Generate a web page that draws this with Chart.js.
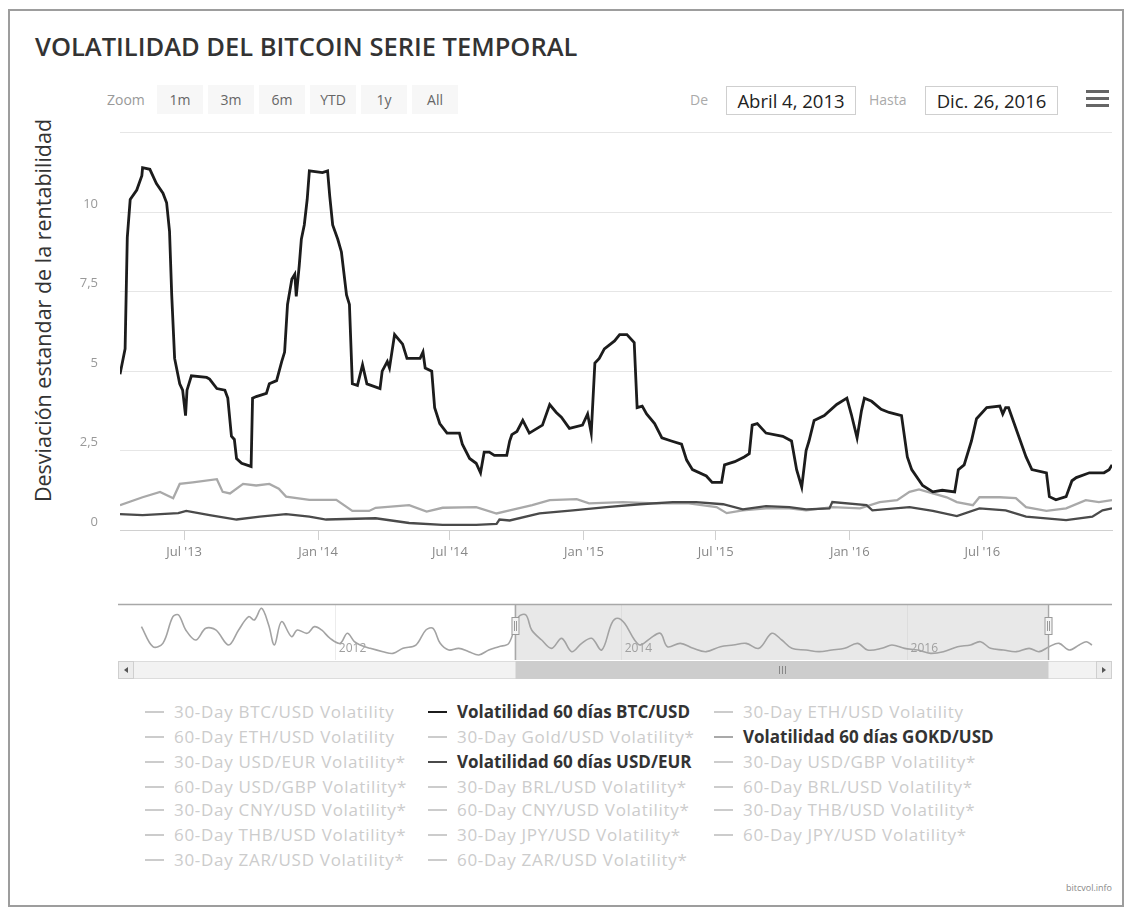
<!DOCTYPE html>
<html><head><meta charset="utf-8">
<script src="https://cdn.jsdelivr.net/npm/chart.js@4.4.1/dist/chart.umd.min.js"></script>
<style>
html,body{margin:0;padding:0;background:#fff;}
body{width:1134px;height:913px;position:relative;overflow:hidden;font-family:"Open Sans",sans-serif;}
#frame{position:absolute;left:8px;top:9px;width:1116px;height:898px;border:2px solid #9d9d9d;box-sizing:border-box;}
#title{position:absolute;left:35px;top:29px;font-size:25.5px;font-weight:600;color:#333;white-space:nowrap;}
#zoomLabel{position:absolute;left:107px;top:86px;height:28px;line-height:28px;font-size:14px;color:#999;}
.zbtn{position:absolute;top:85px;width:46px;height:29px;line-height:29px;text-align:center;background:#f7f7f7;font-size:14px;color:#666;}
.dlabel{position:absolute;top:86px;height:28px;line-height:28px;font-size:14px;color:#aaa;}
.dbox{position:absolute;top:86px;height:29px;line-height:28px;border:1px solid #cfcfcf;box-sizing:border-box;text-align:center;font-size:18.5px;color:#222;}
.bar{position:absolute;left:1086px;width:23px;height:3px;background:#666;}
#ytitle{position:absolute;left:-208px;top:296px;width:500px;text-align:center;font-size:21.5px;color:#333;transform:rotate(-90deg);white-space:nowrap;}
#mainWrap{position:absolute;left:0;top:103px;width:1134px;height:477px;}
#navWrap{position:absolute;left:0;top:598px;width:1134px;height:90px;}
.litem{position:absolute;height:22px;line-height:22px;font-size:17px;white-space:nowrap;}
.lsym{display:inline-block;width:19px;height:2px;vertical-align:middle;margin-right:10px;position:relative;top:-1px;}
#credit{position:absolute;right:22px;top:881px;font-size:9px;color:#888;}
</style></head>
<body>
<div id="frame"></div>
<div id="title">VOLATILIDAD DEL BITCOIN SERIE TEMPORAL</div>
<div id="zoomLabel">Zoom</div>
<div id="zoomBtns"></div>
<div class="dlabel" style="left:690px">De</div>
<div class="dbox" style="left:726px;width:130px">Abril 4, 2013</div>
<div class="dlabel" style="left:869px">Hasta</div>
<div class="dbox" style="left:925px;width:133px">Dic. 26, 2016</div>
<div class="bar" style="top:90px"></div><div class="bar" style="top:97px"></div><div class="bar" style="top:104px"></div>
<div id="ytitle">Desviación estandar de la rentabilidad</div>
<div id="mainWrap"><canvas id="main"></canvas></div>
<div id="navWrap"><canvas id="nav"></canvas></div>
<div id="legend"></div>
<div id="credit">bitcvol.info</div>
<script>
// ---------- DATA ----------
const zoomButtons = ['1m','3m','6m','YTD','1y','All'];

const btcDates = ['2013-04-04','2013-04-11','2013-04-14','2013-04-18','2013-04-27','2013-05-04','2013-05-05','2013-05-15','2013-05-24','2013-06-02','2013-06-07','2013-06-11','2013-06-14','2013-06-18','2013-06-25','2013-06-29','2013-07-03','2013-07-05','2013-07-11','2013-08-01','2013-08-05','2013-08-15','2013-08-26','2013-08-30','2013-09-04','2013-09-08','2013-09-11','2013-09-18','2013-10-01','2013-10-03','2013-10-08','2013-10-22','2013-10-26','2013-11-05','2013-11-12','2013-11-16','2013-11-20','2013-11-26','2013-11-30','2013-12-02','2013-12-06','2013-12-09','2013-12-13','2013-12-17','2013-12-20','2014-01-07','2014-01-14','2014-01-17','2014-01-21','2014-01-28','2014-02-02','2014-02-09','2014-02-13','2014-02-17','2014-02-24','2014-03-03','2014-03-09','2014-03-27','2014-03-30','2014-04-06','2014-04-09','2014-04-16','2014-04-27','2014-05-03','2014-05-21','2014-05-25','2014-05-28','2014-06-06','2014-06-10','2014-06-17','2014-06-27','2014-07-14','2014-07-18','2014-07-28','2014-08-06','2014-08-12','2014-08-17','2014-08-24','2014-08-31','2014-09-17','2014-09-21','2014-09-24','2014-10-01','2014-10-09','2014-10-18','2014-11-05','2014-11-15','2014-11-24','2014-12-01','2014-12-12','2014-12-30','2015-01-06','2015-01-11','2015-01-16','2015-01-22','2015-01-29','2015-02-12','2015-02-19','2015-03-01','2015-03-11','2015-03-15','2015-03-22','2015-03-28','2015-04-08','2015-04-18','2015-05-01','2015-05-15','2015-05-22','2015-05-30','2015-06-18','2015-06-26','2015-07-09','2015-07-13','2015-07-27','2015-08-09','2015-08-16','2015-08-20','2015-08-27','2015-09-08','2015-10-01','2015-10-13','2015-10-20','2015-10-27','2015-11-02','2015-11-06','2015-11-13','2015-11-27','2015-12-14','2015-12-28','2016-01-03','2016-01-11','2016-01-17','2016-01-21','2016-01-31','2016-02-13','2016-02-24','2016-03-12','2016-03-20','2016-03-26','2016-04-10','2016-04-24','2016-05-07','2016-05-24','2016-05-29','2016-06-06','2016-06-16','2016-06-23','2016-07-07','2016-07-25','2016-07-29','2016-08-02','2016-08-06','2016-08-16','2016-08-30','2016-09-07','2016-09-27','2016-10-01','2016-10-10','2016-10-24','2016-11-01','2016-11-07','2016-11-25','2016-12-15','2016-12-22','2016-12-26'];
const btcValues = [4.9,5.7,9.2,10.4,10.7,11.15,11.4,11.35,10.9,10.6,10.3,9.4,7.4,5.4,4.6,4.4,3.6,4.4,4.85,4.8,4.75,4.45,4.4,4.15,2.95,2.85,2.25,2.1,2.0,4.15,4.2,4.3,4.6,4.7,5.3,5.6,7.1,7.9,8.05,7.35,8.3,9.15,9.6,10.4,11.3,11.25,11.3,10.5,9.6,9.15,8.75,7.4,7.1,4.6,4.55,5.2,4.6,4.45,5.0,5.3,5.1,6.15,5.85,5.4,5.4,5.6,5.1,5.0,3.85,3.35,3.05,3.05,2.7,2.25,2.1,1.8,2.45,2.45,2.35,2.35,2.8,3.0,3.1,3.45,3.05,3.3,3.95,3.7,3.55,3.2,3.3,3.65,3.05,5.25,5.4,5.7,5.95,6.15,6.15,5.9,3.85,3.9,3.65,3.35,2.9,2.8,2.7,2.2,1.9,1.7,1.5,1.5,2.05,2.15,2.3,2.4,3.3,3.35,3.05,2.95,2.8,1.9,1.35,2.5,2.8,3.45,3.6,3.95,4.15,3.65,2.9,3.75,4.15,4.05,3.8,3.7,3.6,2.3,1.9,1.4,1.2,1.25,1.2,1.9,2.05,2.8,3.5,3.85,3.9,3.65,3.85,3.85,3.2,2.3,1.9,1.8,1.05,0.95,1.05,1.55,1.65,1.8,1.8,1.9,2.05];

const goldDates = ['2013-04-04','2013-05-05','2013-05-29','2013-06-16','2013-06-25','2013-07-13','2013-08-15','2013-08-23','2013-09-02','2013-09-20','2013-10-08','2013-10-26','2013-11-08','2013-11-18','2013-12-20','2014-01-26','2014-02-17','2014-03-12','2014-03-21','2014-05-06','2014-05-30','2014-06-21','2014-08-06','2014-09-03','2014-09-21','2014-10-22','2014-11-15','2014-12-22','2015-01-08','2015-02-23','2015-04-11','2015-05-25','2015-07-02','2015-07-16','2015-08-07','2015-09-08','2015-10-10','2015-11-02','2015-12-08','2016-01-15','2016-02-11','2016-03-06','2016-03-23','2016-04-05','2016-04-24','2016-05-13','2016-05-27','2016-06-18','2016-06-27','2016-07-25','2016-08-16','2016-08-30','2016-09-27','2016-10-24','2016-11-20','2016-12-08','2016-12-26'];
const goldValues = [0.78,1.03,1.2,1.0,1.45,1.5,1.6,1.2,1.15,1.45,1.4,1.45,1.3,1.05,0.95,0.95,0.6,0.6,0.7,0.78,0.58,0.7,0.72,0.52,0.62,0.78,0.94,0.97,0.84,0.88,0.84,0.84,0.72,0.53,0.62,0.68,0.68,0.62,0.72,0.68,0.88,0.94,1.2,1.28,1.15,1.03,0.88,0.78,1.03,1.03,1.0,0.72,0.6,0.68,0.94,0.88,0.94];

const eurDates = ['2013-04-04','2013-05-05','2013-06-23','2013-07-04','2013-08-05','2013-09-11','2013-10-13','2013-11-18','2013-12-20','2014-01-12','2014-03-21','2014-05-06','2014-06-21','2014-08-06','2014-09-03','2014-09-07','2014-09-21','2014-11-01','2014-12-17','2015-02-01','2015-03-19','2015-05-03','2015-06-04','2015-07-11','2015-08-07','2015-09-08','2015-10-10','2015-11-02','2015-12-04','2015-12-08','2016-01-24','2016-02-01','2016-03-23','2016-04-24','2016-05-27','2016-06-27','2016-08-02','2016-08-30','2016-10-24','2016-11-29','2016-12-13','2016-12-26'];
const eurValues = [0.5,0.47,0.53,0.6,0.47,0.33,0.42,0.5,0.42,0.33,0.37,0.22,0.16,0.16,0.19,0.33,0.3,0.52,0.62,0.72,0.81,0.88,0.88,0.81,0.65,0.75,0.72,0.65,0.68,0.88,0.78,0.62,0.72,0.6,0.44,0.68,0.62,0.42,0.31,0.42,0.62,0.68];

const seriesNames = ['Volatilidad 60 días BTC/USD','Volatilidad 60 días GOKD/USD','Volatilidad 60 días USD/EUR'];
const seriesColors = ['#1c1c1c','#a9a9a9','#4a4a4a'];

const legendNames = ['30-Day BTC/USD Volatility','Volatilidad 60 días BTC/USD','30-Day ETH/USD Volatility',
 '60-Day ETH/USD Volatility','30-Day Gold/USD Volatility*','Volatilidad 60 días GOKD/USD',
 '30-Day USD/EUR Volatility*','Volatilidad 60 días USD/EUR','30-Day USD/GBP Volatility*',
 '60-Day USD/GBP Volatility*','30-Day BRL/USD Volatility*','60-Day BRL/USD Volatility*',
 '30-Day CNY/USD Volatility*','60-Day CNY/USD Volatility*','30-Day THB/USD Volatility*',
 '60-Day THB/USD Volatility*','30-Day JPY/USD Volatility*','60-Day JPY/USD Volatility*',
 '30-Day ZAR/USD Volatility*','60-Day ZAR/USD Volatility*'];

const xTickDates = ['2013-07-01','2014-01-01','2014-07-01','2015-01-01','2015-07-01','2016-01-01','2016-07-01'];
const xTickLabels = ["Jul '13","Jan '14","Jul '14","Jan '15","Jul '15","Jan '16","Jul '16"];
const xRange = ['2013-04-04','2016-12-26'];
const yTicks = [0,2.5,5,7.5,10,12.5];

const navYears = [2010.64,2010.72,2010.79,2010.86,2010.90,2010.95,2011.02,2011.09,2011.16,2011.25,2011.32,2011.39,2011.43,2011.48,2011.53,2011.57,2011.62,2011.69,2011.73,2011.80,2011.85,2011.90,2011.96,2012.03,2012.08,2012.13,2012.17,2012.24,2012.33,2012.40,2012.47,2012.56,2012.63,2012.68,2012.73,2012.79,2012.86,2012.93,2013.00,2013.07,2013.14,2013.21,2013.28,2013.33,2013.37,2013.44,2013.51,2013.58,2013.65,2013.72,2013.79,2013.86,2013.93,2013.97,2014.02,2014.09,2014.13,2014.20,2014.27,2014.32,2014.41,2014.50,2014.59,2014.69,2014.78,2014.87,2014.96,2015.05,2015.12,2015.19,2015.29,2015.38,2015.47,2015.56,2015.65,2015.72,2015.82,2015.89,2015.98,2016.07,2016.16,2016.25,2016.35,2016.44,2016.51,2016.58,2016.67,2016.76,2016.85,2016.92,2016.99,2017.06,2017.13,2017.20,2017.25,2017.29];
const navValues = [7.41,2.96,3.70,9.63,10.0,6.67,4.44,7.04,6.67,3.33,6.67,9.63,8.89,11.48,7.78,3.33,8.52,5.19,6.67,5.93,7.41,6.67,4.81,3.70,5.93,4.07,3.33,2.59,1.85,1.48,2.59,3.33,6.67,7.04,3.70,2.22,2.59,1.85,1.11,2.22,2.96,3.70,9.63,10.0,6.67,4.44,2.59,4.81,1.85,3.70,4.81,2.22,8.15,9.26,8.15,4.44,3.33,4.81,5.93,2.96,3.70,2.59,1.85,2.96,3.33,3.70,2.59,5.93,4.44,2.59,2.22,1.85,2.22,2.59,3.70,2.22,2.59,3.33,2.59,2.22,1.48,1.85,2.96,3.33,4.07,2.59,2.22,1.85,2.59,1.85,2.96,3.70,2.22,3.33,4.07,3.33];
const navRange = [2010.49, 2017.43];
const navTicks = [2012, 2014, 2016];
const navSelection = [2013.25, 2016.98];

// ---------- HELPERS ----------
const t = s => Date.parse(s + 'T00:00:00Z');
const pts = (d, v) => d.map((s, i) => ({x: t(s), y: v[i]}));
const FONT = '"Open Sans", sans-serif';

const zb = document.getElementById('zoomBtns');
zoomButtons.forEach((b, i) => {
  const el = document.createElement('div');
  el.className = 'zbtn'; el.textContent = b;
  el.style.left = (157 + i * 51) + 'px';
  zb.appendChild(el);
});

// ---------- MAIN CHART ----------
const datasets = [
  {label: seriesNames[0], data: pts(btcDates, btcValues), borderColor: seriesColors[0], borderWidth: 2.8, order: 0},
  {label: seriesNames[1], data: pts(goldDates, goldValues), borderColor: seriesColors[1], borderWidth: 2.3, order: 2},
  {label: seriesNames[2], data: pts(eurDates, eurValues), borderColor: seriesColors[2], borderWidth: 2.3, order: 1}
].map(d => Object.assign(d, {pointRadius: 0, tension: 0, fill: false}));

new Chart(document.getElementById('main'), {
  type: 'line',
  data: {datasets},
  options: {
    responsive: true, maintainAspectRatio: false, animation: false,
    layout: {padding: {left: 0, right: 22, top: 12, bottom: 0}},
    plugins: {legend: {display: false}, tooltip: {enabled: false}},
    scales: {
      x: {
        type: 'linear', min: t(xRange[0]), max: t(xRange[1]),
        afterBuildTicks: s => { s.ticks = xTickDates.map(d => ({value: t(d)})); },
        afterFit: s => { s.height = 50; },
        grid: {display: true, drawOnChartArea: false, drawTicks: true, tickLength: 10, color: '#d0d0d0'},
        border: {display: true, color: '#d0d0d0'},
        ticks: {
          autoSkip: false, maxRotation: 0, padding: 4, color: '#888',
          font: {family: FONT, size: 13},
          callback: (v) => { const i = xTickDates.findIndex(d => t(d) === v); return i >= 0 ? xTickLabels[i] : ''; }
        }
      },
      y: {
        min: 0, max: 12.5,
        afterBuildTicks: s => { s.ticks = yTicks.map(v => ({value: v})); },
        afterFit: s => { s.width = 120; },
        grid: {color: '#e6e6e6', drawTicks: false, lineWidth: 1},
        border: {display: false},
        ticks: {
          padding: 22, color: '#999', labelOffset: -8,
          font: {family: FONT, size: 13},
          callback: v => v === 12.5 ? '' : String(v).replace('.', ',')
        }
      }
    }
  }
});

// ---------- NAVIGATOR ----------
const navExtras = {
  id: 'navExtras',
  beforeDatasetsDraw(chart) {
    const {ctx, chartArea: a, scales: {x}} = chart;
    const x1 = x.getPixelForValue(navSelection[0]), x2 = x.getPixelForValue(navSelection[1]);
    ctx.save();
    ctx.fillStyle = 'rgba(200,200,200,0.42)';
    ctx.fillRect(x1, a.top, x2 - x1, a.bottom - a.top);
    // year labels inside the navigator
    ctx.fillStyle = '#a0a0a0';
    ctx.font = '12px ' + FONT;
    ctx.textAlign = 'left'; ctx.textBaseline = 'middle';
    navTicks.forEach(v => ctx.fillText(String(v), x.getPixelForValue(v) + 3, a.bottom - 11));
    ctx.restore();
  },
  afterDraw(chart) {
    const {ctx, chartArea: a, scales: {x}} = chart;
    const x1 = Math.round(x.getPixelForValue(navSelection[0])) + 0.5;
    const x2 = Math.round(x.getPixelForValue(navSelection[1])) + 0.5;
    ctx.save();
    ctx.strokeStyle = '#a8a8a8'; ctx.lineWidth = 1.5;
    ctx.beginPath();
    ctx.moveTo(a.left - 2, a.top + 0.5); ctx.lineTo(a.right, a.top + 0.5);
    ctx.moveTo(x1, a.top); ctx.lineTo(x1, a.bottom);
    ctx.moveTo(x2, a.top); ctx.lineTo(x2, a.bottom);
    ctx.stroke();
    const sy = a.bottom + 1, sh = 18;
    ctx.lineWidth = 1;
    ctx.fillStyle = '#f2f2f2'; ctx.strokeStyle = '#dcdcdc';
    ctx.fillRect(a.left - 2, sy, a.right - a.left + 2, sh);
    ctx.strokeRect(a.left - 1.5, sy + 0.5, a.right - a.left + 1, sh - 1);
    ctx.fillStyle = '#cdcdcd';
    ctx.fillRect(x1, sy, x2 - x1, sh);
    ctx.strokeStyle = '#888';
    const cx = Math.round((x1 + x2) / 2) + 0.5;
    ctx.beginPath();
    [-3, 0, 3].forEach(d => { ctx.moveTo(cx + d, sy + 5); ctx.lineTo(cx + d, sy + sh - 5); });
    ctx.stroke();
    [[a.left - 2, 1], [a.right - 16, -1]].forEach(([bx, dir]) => {
      ctx.fillStyle = '#ececec'; ctx.strokeStyle = '#cfcfcf';
      ctx.fillRect(bx, sy, 16, sh); ctx.strokeRect(bx + 0.5, sy + 0.5, 15, sh - 1);
      ctx.fillStyle = '#555';
      ctx.beginPath();
      const mx = bx + 8, my = sy + sh / 2;
      ctx.moveTo(mx + 2 * dir, my - 3); ctx.lineTo(mx - 2 * dir, my); ctx.lineTo(mx + 2 * dir, my + 3);
      ctx.closePath(); ctx.fill();
    });
    [x1, x2].forEach(hx => {
      ctx.fillStyle = '#f4f4f4'; ctx.strokeStyle = '#999';
      ctx.fillRect(hx - 4, a.top + 13, 8, 18);
      ctx.strokeRect(hx - 3.5, a.top + 13.5, 7, 17);
      ctx.beginPath();
      ctx.moveTo(hx - 1, a.top + 17); ctx.lineTo(hx - 1, a.top + 27);
      ctx.moveTo(hx + 1, a.top + 17); ctx.lineTo(hx + 1, a.top + 27);
      ctx.stroke();
    });
    ctx.restore();
  }
};

new Chart(document.getElementById('nav'), {
  type: 'line',
  data: {datasets: [{
    label: 'navigator',
    data: navYears.map((y, i) => ({x: y, y: navValues[i]})),
    borderColor: '#a3a3a3', borderWidth: 1.6, pointRadius: 0, tension: 0.35, fill: false
  }]},
  options: {
    responsive: true, maintainAspectRatio: false, animation: false,
    layout: {padding: {left: 120, right: 22, top: 6, bottom: 0}},
    plugins: {legend: {display: false}, tooltip: {enabled: false}},
    scales: {
      x: {
        type: 'linear', min: navRange[0], max: navRange[1],
        afterBuildTicks: s => { s.ticks = navTicks.map(v => ({value: v})); },
        afterFit: s => { s.height = 28; },
        grid: {display: true, drawOnChartArea: true, drawTicks: false, color: '#ececec'},
        border: {display: false},
        ticks: {display: false}
      },
      y: {display: false, min: 0, max: 12.44}
    }
  },
  plugins: [navExtras]
});

// ---------- LEGEND ----------
const colX = [145, 428, 714];
const rowY = [701, 726, 751, 776, 799, 824, 849];
const lg = document.getElementById('legend');
legendNames.forEach((n, i) => {
  const si = seriesNames.indexOf(n);
  const on = si >= 0;
  const el = document.createElement('div');
  el.className = 'litem';
  el.style.left = colX[i % 3] + 'px';
  el.style.top = rowY[Math.floor(i / 3)] + 'px';
  el.style.color = on ? '#333' : '#cccccc';
  el.style.fontWeight = on ? '700' : '400';
  el.style.letterSpacing = on ? '0px' : '0.7px';
  const sym = document.createElement('span');
  sym.className = 'lsym';
  sym.style.background = on ? seriesColors[si] : '#cccccc';
  el.appendChild(sym);
  el.appendChild(document.createTextNode(n));
  lg.appendChild(el);
});
</script>
</body></html>
